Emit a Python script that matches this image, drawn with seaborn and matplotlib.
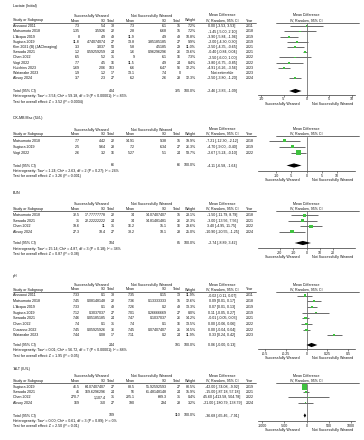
import numpy as np
import matplotlib
matplotlib.use("Agg")
import matplotlib.pyplot as plt
import seaborn as sns
import pandas as pd

# ---------------- data ----------------
lac_title = "Lactate (Initial)"
lac_study = ["Aissaoui 2011", "Matsumoto 2018", "L'Acqua 2019", "Sugiura 2019", "Kim 2021 (B) (JACImaging)",
             "Sawada 2021", "Chen 2022", "Vogt 2022", "Hutchins 2023", "Watanabe 2023", "Aksoy 2024"]
lac_mean1 = ["7.3", "1.35", "8", "11.8", "3.3", "1.2", "6.5", "7.7", "1.69", "1.9", "3.7"]
lac_sd1 = ["5.4", "3.5926", "4.9", "4.74074074", "3.037", "0.59259259", "5.2", "4.5", "2.06", "1.2", "2.3"]
lac_n1 = [38, 22, 49, 27, 50, 24, 31, 16, 103, 17, 27]
lac_mean2 = ["7.3", "2.8", "11.9", "13.8", "5.8", "1.6", "9", "11.5", "6.6", "13.1", "6.2"]
lac_sd2 = ["6.1", "6.68", "4.9", "3.85185185", "4.5185", "0.96296296", "6.1", "4.9", "6.47", "7.4", "2.6"]
lac_n2 = [15, 15, 49, 27, 29, 26, 16, 24, 96, 0, 28]
lac_weight = [7.2, 7.2, 10.8, 9.9, 11.0, 13.6, 7.3, 8.4, 12.2, np.nan, 12.3]
lac_md = [0.00, -1.45, -3.90, -2.00, -2.50, -0.40, -2.50, -3.80, -4.91, np.nan, -2.50]
lac_lo = [-3.53, -5.00, -5.84, -4.30, -4.35, -0.84, -6.00, -6.75, -6.26, np.nan, -3.80]
lac_hi = [3.53, 2.10, -1.96, 0.30, -0.65, 0.04, 1.00, -0.85, -3.56, np.nan, -1.20]
lac_year = [2011, 2018, 2019, 2019, 2021, 2021, 2022, 2022, 2023, 2023, 2024]
lac_total = [-2.46, -3.83, -1.09]
lac_het = "Heterogeneity: Tau² = 3.54; Chi² = 59.18, df = 9 (P < 0.00001); I² = 85%"
lac_test = "Test for overall effect: Z = 3.52 (P = 0.0004)"
lac_ticks = [-10, -5, 0, 5, 10]

ck_title = "CK-MB Max (IU/L)"
ck_study = ["Matsumoto 2018", "Sugiura 2019", "Vogt 2022"]
ck_mean1 = ["7.7", "2.5", "2.6"]
ck_sd1 = ["4.42", "9.64", "3.2"]
ck_n1 = [22, 28, 16]
ck_mean2 = ["14.91", "7.2", "5.27"]
ck_sd2 = ["9.38", "6.34", "5.1"]
ck_n2 = [15, 27, 24]
ck_weight = [19.9, 26.3, 53.7]
ck_md = [-7.21, -4.70, -2.67]
ck_lo = [-12.30, -9.00, -5.24]
ck_hi = [-2.12, -0.40, -0.10]
ck_year = [2018, 2019, 2022]
ck_total = [-4.11, -6.58, -1.64]
ck_het = "Heterogeneity: Tau² = 1.24; Chi² = 2.63, df = 2 (P = 0.27); I² = 24%"
ck_test = "Test for overall effect: Z = 3.26 (P = 0.001)"
ck_ticks = [-10, -5, 0, 5, 10]

bun_title = "BUN"
bun_study = ["Matsumoto 2018", "Sawada 2021", "Chen 2022", "Aksoy 2024"]
bun_mean1 = ["32.5", "31", "19.6", "27.3"]
bun_sd1 = ["17.77777778", "22.22222222", "11", "18.4"]
bun_n1 = [22, 24, 31, 27]
bun_mean2 = ["34", "34", "16.2", "38.2"]
bun_sd2 = ["14.07407407", "14.81481481", "15.1", "18.1"]
bun_n2 = [15, 26, 16, 28]
bun_weight = [23.1, 22.3, 29.6, 25.0]
bun_md = [-1.50, -3.00, 3.40, -10.90]
bun_lo = [-11.79, -13.56, -4.95, -20.55]
bun_hi = [8.79, 7.56, 11.75, -1.25]
bun_year = [2018, 2021, 2022, 2024]
bun_total = [-2.74, -8.89, 3.42]
bun_het = "Heterogeneity: Tau² = 15.14; Chi² = 4.87, df = 3 (P = 0.18); I² = 38%"
bun_test = "Test for overall effect: Z = 0.87 (P = 0.38)"
bun_ticks = [-20, -10, 0, 10, 20]

ph_title = "pH"
ph_study = ["Aissaoui 2011", "Matsumoto 2018", "L'Acqua 2019", "Sugiura 2019", "Sawada 2021",
            "Chen 2022", "Cusanno 2022", "Watanabe 2023"]
ph_mean1 = ["7.33", "7.45", "7.33", "7.12", "7.46", "7.4", "7.45", "7.44"]
ph_sd1 = ["0.1", "0.08148148", "0.1", "0.3037037", "0.05185185", "0.1", "0.05925926", "0.08"]
ph_n1 = [38, 22, 49, 27, 24, 31, 36, 17]
ph_mean2 = ["7.35", "7.36", "7.26", "7.01", "7.47", "7.4", "7.45", "7.11"]
ph_sd2 = ["0.15", "0.13333333", "0.2", "0.26666669", "0.1037037", "0.1", "0.07407407", "0.2"]
ph_n2 = [13, 15, 49, 27, 26, 16, 21, 24]
ph_weight = [11.9, 12.6, 13.3, 8.0, 14.2, 13.5, 14.5, 11.9]
ph_md = [-0.02, 0.09, 0.07, 0.11, -0.01, 0.00, 0.00, 0.33]
ph_lo = [-0.11, 0.01, 0.01, -0.05, -0.05, -0.06, -0.04, 0.24]
ph_hi = [0.07, 0.17, 0.13, 0.27, 0.03, 0.06, 0.04, 0.42]
ph_year = [2011, 2018, 2019, 2019, 2021, 2022, 2022, 2023]
ph_total = [0.06, -0.0, 0.13]
ph_het = "Heterogeneity: Tau² = 0.01; Chi² = 56.72, df = 7 (P < 0.00001); I² = 88%"
ph_test = "Test for overall effect: Z = 1.95 (P = 0.05)"
ph_ticks = [-0.5, -0.25, 0, 0.25, 0.5]
ph_ticklabels = ["-0.5", "-0.25", "0", "0.25", "0.5"]

alt_title = "'ALT (IU/L)"
alt_study = ["Sugiura 2019", "Sawada 2021", "Chen 2022", "Aksoy 2024"]
alt_mean1 = ["46.5", "41", "270.7", "169"]
alt_sd1 = ["64.07407407", "169.6296296", "1,107.4", "310"]
alt_n1 = [27, 24, 31, 27]
alt_mean2 = ["88.5", "56", "225.1", "190"]
alt_sd2 = ["55.92592593", "61.48148148", "689.3", "294"]
alt_n2 = [27, 24, 31, 28]
alt_weight = [80.5, 15.9, 0.4, 3.2]
alt_md = [-42.00, -15.00, 45.60, -21.00]
alt_lo = [-74.08, -87.18, -413.58, -180.79]
alt_hi = [-9.92, 57.18, 504.78, 138.79]
alt_year = [2019, 2021, 2022, 2024]
alt_total = [-36.68, -65.46, -7.91]
alt_het = "Heterogeneity: Tau² = 0.00; Chi² = 0.61, df = 3 (P = 0.89); I² = 0%"
alt_test = "Test for overall effect: Z = 2.50 (P = 0.01)"
alt_ticks = [-1000, -500, 0, 500, 1000]

# ---------------- style ----------------
sns.set_style("white")
plt.rcParams['font.family'] = ['Liberation Sans', 'DejaVu Sans']
W, H = 364, 440
FS = 2.6
TXT = "#111111"
GREEN = "#3fc23f"
GRAY = "#6a6a6a"

fig = plt.figure(figsize=(W / 100, H / 100), dpi=100)
tx = fig.add_axes([0, 0, 1, 1])
tx.set_xlim(0, W)
tx.set_ylim(H, 0)
tx.axis("off")


def fmt_ci(m, lo, hi):
    return f"{m:.2f} [{lo:.2f}, {hi:.2f}]"


def T(x, y, s, ha="left", **kw):
    tx.text(x, y, s, ha=ha, va="center", fontsize=FS, color=TXT, **kw)


X = dict(mean1=80, sd1=106, n1=115, mean2=135, sd2=167, n2=181, w=196, md=222, year=246)
FX0, FX1 = 258, 355  # forest axis pixel span


def panel(title, study, mean1, sd1, n1, mean2, sd2, n2, weight, md, lo, hi, year, total,
          het, test, ticks, lim, L, ticklabels=None):
    T(13, L['title'], title)
    T(91, L['grp'], "Successfully Weaned", ha="center")
    T(152, L['grp'], "Not Successfully Weaned", ha="center")
    T(222, L['grp'], "Mean Difference", ha="center")
    T(306.5, L['grp'], "Mean Difference", ha="center")
    c = L['col']
    T(13, c, "Study or Subgroup")
    T(X['mean1'], c, "Mean", ha="right")
    T(X['sd1'], c, "SD", ha="right")
    T(X['n1'], c, "Total", ha="right")
    T(X['mean2'], c, "Mean", ha="right")
    T(X['sd2'], c, "SD", ha="right")
    T(X['n2'], c, "Total", ha="right")
    T(X['w'], c, "Weight", ha="right")
    T(X['md'], c, "IV, Random, 95% CI", ha="center")
    T(X['year'], c, "Year")
    T(306.5, c, "IV, Random, 95% CI", ha="center")
    tx.plot([13, 256], [L['line']] * 2, color="#333333", lw=0.5)
    tx.plot([276, 359], [L['line']] * 2, color="#333333", lw=0.5)

    ys = [L['row0'] + i * L['dy'] for i in range(len(study))]
    for i, y in enumerate(ys):
        T(13, y, study[i])
        T(X['mean1'], y, mean1[i], ha="right")
        T(X['sd1'], y, sd1[i], ha="right")
        T(X['n1'], y, str(n1[i]), ha="right")
        T(X['mean2'], y, mean2[i], ha="right")
        T(X['sd2'], y, sd2[i], ha="right")
        T(X['n2'], y, str(n2[i]), ha="right")
        if np.isnan(md[i]):
            T(X['md'], y, "Not estimable", ha="center")
        else:
            T(X['w'], y, f"{weight[i]:.1f}%", ha="right")
            T(X['md'], y, fmt_ci(md[i], lo[i], hi[i]), ha="center")
        T(X['year'], y, str(year[i]))
    ty = L['total']
    T(13, ty, "Total (95% CI)")
    T(X['n1'], ty, str(sum(n1)), ha="right")
    T(X['n2'], ty, str(sum(n2)), ha="right")
    T(X['w'], ty, "100.0%", ha="right")
    T(X['md'], ty, fmt_ci(*total), ha="center")
    T(13, L['het'], het)
    T(13, L['test'], test)
    T(282, L['axis'] + 9.0, "Successfully Weaned", ha="center")
    T(333, L['axis'] + 9.0, "Not Successfully Weaned", ha="center")

    # forest axes, y in pixel units
    top, bot = L['line'], L['axis']
    ax = fig.add_axes([FX0 / W, 1 - bot / H, (FX1 - FX0) / W, (bot - top) / H])
    ax.set_xlim(-lim, lim)
    ax.set_ylim(bot, top)
    df = pd.DataFrame(dict(md=md, lo=lo, hi=hi, w=weight, y=ys)).dropna()
    ax.axvline(0, color="#555555", lw=0.5, zorder=1)
    ax.hlines(df['y'], df['lo'], df['hi'], color=GRAY, lw=0.7, zorder=2)
    k = 0.2
    wmin, wmax = df['w'].min(), df['w'].max()
    sns.scatterplot(data=df, x="md", y="y", size="w", sizes=(k * wmin, k * wmax),
                    size_norm=(wmin, wmax), marker="s", color=GREEN, linewidth=0,
                    legend=False, ax=ax, zorder=3)
    m, a, b = total
    h = 2.1
    ax.fill([a, m, b, m], [ty, ty - h, ty, ty + h], color="black", lw=0, zorder=4)
    for s in ["top", "left", "right"]:
        ax.spines[s].set_visible(False)
    ax.spines["bottom"].set_linewidth(0.5)
    ax.spines["bottom"].set_color("#333333")
    ax.set_xticks(ticks)
    ax.set_xticklabels(ticklabels if ticklabels else [str(t) for t in ticks])
    ax.tick_params(axis="x", labelsize=FS, length=1.2, width=0.4, pad=0.6,
                   colors="#333333", labelcolor=TXT, bottom=True)
    ax.set_yticks([])
    ax.set_xlabel("")
    ax.set_ylabel("")
    ax.patch.set_alpha(0)


panel(lac_title, lac_study, lac_mean1, lac_sd1, lac_n1, lac_mean2, lac_sd2, lac_n2, lac_weight,
      lac_md, lac_lo, lac_hi, lac_year, lac_total, lac_het, lac_test, lac_ticks, 10.7,
      dict(title=5.5, grp=15.5, col=20.5, line=23.5, row0=26.3, dy=5.2, total=91, het=96.5,
           test=102, axis=95))
panel(ck_title, ck_study, ck_mean1, ck_sd1, ck_n1, ck_mean2, ck_sd2, ck_n2, ck_weight,
      ck_md, ck_lo, ck_hi, ck_year, ck_total, ck_het, ck_test, ck_ticks, 16,
      dict(title=118, grp=129.5, col=134, line=136.5, row0=140.7, dy=6.0, total=165.5, het=171,
           test=176.5, axis=171))
panel(bun_title, bun_study, bun_mean1, bun_sd1, bun_n1, bun_mean2, bun_sd2, bun_n2, bun_weight,
      bun_md, bun_lo, bun_hi, bun_year, bun_total, bun_het, bun_test, bun_ticks, 36.5,
      dict(title=193, grp=204, col=209, line=211.5, row0=215.3, dy=5.45, total=243, het=248.7,
           test=254, axis=248.3))
panel(ph_title, ph_study, ph_mean1, ph_sd1, ph_n1, ph_mean2, ph_sd2, ph_n2, ph_weight,
      ph_md, ph_lo, ph_hi, ph_year, ph_total, ph_het, ph_test, ph_ticks, 0.58,
      dict(title=276, grp=285, col=289.5, line=292, row0=295.5, dy=5.7, total=345, het=350.5,
           test=356, axis=349), ticklabels=ph_ticklabels)
panel(alt_title, alt_study, alt_mean1, alt_sd1, alt_n1, alt_mean2, alt_sd2, alt_n2, alt_weight,
      alt_md, alt_lo, alt_hi, alt_year, alt_total, alt_het, alt_test, alt_ticks, 1090,
      dict(title=369, grp=376, col=381, line=383.5, row0=387, dy=5.2, total=415.5, het=421,
           test=426.5, axis=421))

fig.savefig("out.png", dpi=100)
